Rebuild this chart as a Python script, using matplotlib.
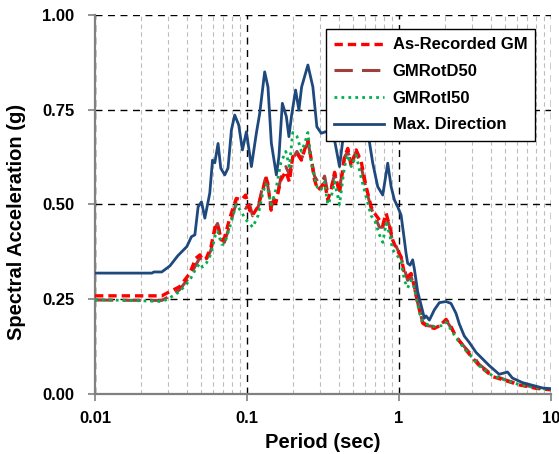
import matplotlib
matplotlib.use("Agg")
import matplotlib.pyplot as plt
from matplotlib.ticker import NullFormatter, LogLocator

plt.rcParams['font.family'] = ['Liberation Sans', 'DejaVu Sans']

# Periods (sec) for the three component spectra
periods = [0.01, 0.02, 0.0275, 0.030, 0.036, 0.042, 0.046, 0.049, 0.051, 0.054, 0.058,
           0.062, 0.064, 0.068, 0.071, 0.077, 0.085, 0.092, 0.098, 0.104, 0.109, 0.118,
           0.127, 0.133, 0.137, 0.144, 0.150, 0.155, 0.167, 0.180, 0.190, 0.200, 0.213,
           0.228, 0.239, 0.2515, 0.265, 0.278, 0.2925, 0.308, 0.324, 0.340, 0.358, 0.377,
           0.406, 0.438, 0.4605, 0.485, 0.523, 0.564, 0.608, 0.656, 0.690, 0.744, 0.782,
           0.823, 0.870, 0.909, 0.957, 1.032, 1.085, 1.140, 1.201, 1.262, 1.362, 1.431,
           1.544, 1.708, 1.890, 2.039, 2.198, 2.371, 2.620, 2.758, 2.975, 3.209, 3.373,
           4.123, 5.050, 6.170, 7.950, 10.0]

as_recorded = [0.259, 0.259, 0.259, 0.267, 0.283, 0.318, 0.358, 0.367, 0.354, 0.358, 0.389,
               0.446, 0.446, 0.406, 0.411, 0.464, 0.516, 0.512, 0.525, 0.485, 0.472, 0.494,
               0.538, 0.573, 0.556, 0.485, 0.507, 0.505, 0.565, 0.587, 0.560, 0.626, 0.635,
               0.617, 0.644, 0.670, 0.617, 0.565, 0.538, 0.547, 0.560, 0.512, 0.538, 0.585,
               0.530, 0.626, 0.648, 0.600, 0.644, 0.613, 0.547, 0.494, 0.477, 0.459, 0.446,
               0.477, 0.440, 0.406, 0.385, 0.362, 0.318, 0.310, 0.318, 0.283, 0.222, 0.187,
               0.178, 0.173, 0.182, 0.197, 0.178, 0.151, 0.129, 0.116, 0.100, 0.085, 0.075,
               0.046, 0.035, 0.024, 0.015, 0.011]

gmrotd50 = [0.248, 0.247, 0.247, 0.255, 0.275, 0.310, 0.340, 0.360, 0.345, 0.355, 0.380,
            0.440, 0.450, 0.410, 0.400, 0.445, 0.505, 0.500, 0.490, 0.500, 0.470, 0.490,
            0.550, 0.570, 0.550, 0.490, 0.515, 0.510, 0.570, 0.600, 0.580, 0.620, 0.640,
            0.620, 0.640, 0.665, 0.620, 0.575, 0.560, 0.555, 0.575, 0.530, 0.545, 0.580,
            0.540, 0.625, 0.640, 0.610, 0.640, 0.600, 0.540, 0.490, 0.470, 0.440, 0.440,
            0.470, 0.440, 0.400, 0.390, 0.360, 0.330, 0.300, 0.310, 0.280, 0.220, 0.190,
            0.180, 0.178, 0.185, 0.195, 0.175, 0.152, 0.130, 0.120, 0.105, 0.090, 0.078,
            0.050, 0.037, 0.026, 0.017, 0.012]

gmroti50 = [0.249, 0.246, 0.244, 0.250, 0.270, 0.300, 0.330, 0.345, 0.335, 0.345, 0.370,
            0.420, 0.430, 0.395, 0.395, 0.440, 0.500, 0.480, 0.460, 0.450, 0.440, 0.470,
            0.530, 0.555, 0.540, 0.500, 0.520, 0.540, 0.610, 0.640, 0.600, 0.690, 0.680,
            0.640, 0.660, 0.690, 0.610, 0.570, 0.540, 0.540, 0.560, 0.500, 0.520, 0.560,
            0.500, 0.600, 0.630, 0.600, 0.630, 0.570, 0.520, 0.470, 0.460, 0.420, 0.400,
            0.450, 0.420, 0.380, 0.370, 0.350, 0.300, 0.280, 0.300, 0.280, 0.215, 0.190,
            0.183, 0.178, 0.180, 0.190, 0.170, 0.148, 0.126, 0.115, 0.100, 0.085, 0.074,
            0.048, 0.036, 0.025, 0.016, 0.012]

# Max. Direction spectrum
periods_max = [0.01, 0.0237, 0.0244, 0.0275, 0.0311, 0.0351, 0.0402, 0.0431, 0.0454, 0.0477,
               0.0502, 0.0528, 0.0569, 0.0593, 0.0614, 0.0645, 0.0672, 0.0714, 0.0750, 0.0790,
               0.0830, 0.0882, 0.0933, 0.0991, 0.1069, 0.1153, 0.1212, 0.1307, 0.1374, 0.1446,
               0.1560, 0.1622, 0.1708, 0.1815, 0.1887, 0.1960, 0.2088, 0.2195, 0.2287, 0.2515,
               0.2713, 0.2882, 0.3079, 0.3287, 0.3460, 0.3766, 0.4062, 0.4269, 0.4380, 0.4700,
               0.5200, 0.5700, 0.6231, 0.6720, 0.7246, 0.7816, 0.8230, 0.8429, 0.8876, 0.9328,
               0.9806, 1.032, 1.085, 1.113, 1.140, 1.183, 1.230, 1.262, 1.327, 1.397, 1.469,
               1.507, 1.584, 1.708, 1.842, 2.039, 2.198, 2.371, 2.493, 2.688, 2.900, 3.209,
               3.924, 4.562, 5.172, 5.578, 6.491, 7.549, 8.780, 10.0]

max_direction = [0.319, 0.319, 0.322, 0.322, 0.338, 0.365, 0.389, 0.415, 0.420, 0.494,
                 0.507, 0.464, 0.530, 0.617, 0.610, 0.661, 0.596, 0.578, 0.596, 0.697,
                 0.736, 0.710, 0.644, 0.692, 0.600, 0.689, 0.740, 0.850, 0.810, 0.662,
                 0.578, 0.626, 0.767, 0.732, 0.679, 0.732, 0.802, 0.749, 0.810, 0.868,
                 0.810, 0.705, 0.688, 0.692, 0.688, 0.670, 0.600, 0.670, 0.692, 0.740,
                 0.760, 0.720, 0.692, 0.609, 0.547, 0.525, 0.582, 0.609, 0.547, 0.512,
                 0.494, 0.472, 0.406, 0.371, 0.345, 0.340, 0.354, 0.330, 0.270, 0.235, 0.200,
                 0.206, 0.195, 0.222, 0.241, 0.244, 0.239, 0.213, 0.185, 0.153, 0.136, 0.110,
                 0.075, 0.052, 0.058, 0.042, 0.030, 0.023, 0.016, 0.014]

legend_labels = ["As-Recorded GM", "GMRotD50", "GMRotI50", "Max. Direction"]
xtick_vals = [0.01, 0.1, 1, 10]
xtick_labels = ["0.01", "0.1", "1", "10"]
ytick_vals = [0.0, 0.25, 0.5, 0.75, 1.0]
ytick_labels = ["0.00", "0.25", "0.50", "0.75", "1.00"]

fig = plt.figure(figsize=(5.59, 4.54), dpi=100)
ax = fig.add_axes([95 / 559, 60 / 454, 456 / 559, 379 / 454])

ax.set_xscale('log')
ax.set_xlim(0.01, 10)
ax.set_ylim(0, 1.0)

# grids
ax.xaxis.set_minor_locator(LogLocator(base=10, subs=[2, 3, 4, 5, 6, 7, 8, 9]))
ax.xaxis.set_minor_formatter(NullFormatter())
ax.grid(which='minor', axis='x', color='#bdbdbd', linestyle=(0, (4, 3)), linewidth=0.8)
ax.grid(which='major', axis='both', color='black', linestyle=(0, (5, 4)), linewidth=1.0)
ax.tick_params(which='minor', length=0)

ax.plot(periods, as_recorded, color='#FF0000', linestyle=(0, (2.5, 1.5)), linewidth=2.4,
        label=legend_labels[0], zorder=4)
ax.plot(periods, gmrotd50, color='#A0403C', linestyle=(0, (6, 3)), linewidth=2.2,
        label=legend_labels[1], zorder=3)
ax.plot(periods, gmroti50, color='#00B050', linestyle=(0, (1, 1.5)), linewidth=2.0,
        label=legend_labels[2], zorder=5)
ax.plot(periods_max, max_direction, color='#1F497D', linestyle='-', linewidth=2.0,
        label=legend_labels[3], zorder=6)

ax.set_xticks(xtick_vals)
ax.set_xticklabels(xtick_labels)
ax.set_yticks(ytick_vals)
ax.set_yticklabels(ytick_labels)
for lab in ax.get_xticklabels() + ax.get_yticklabels():
    lab.set_fontweight('bold')
    lab.set_fontsize(12)
ax.tick_params(which='major', length=5, width=1.2, color='#808080', direction='out')
ax.tick_params(axis='y', which='major', pad=10)
ax.tick_params(axis='x', which='major', pad=7)

for s in ['top', 'right']:
    ax.spines[s].set_visible(False)
for s in ['left', 'bottom']:
    ax.spines[s].set_color('#808080')
    ax.spines[s].set_linewidth(1.6)

ax.set_xlabel("Period (sec)", fontsize=14.5, fontweight='bold', labelpad=5)
ax.set_ylabel("Spectral Acceleration (g)", fontsize=14.5, fontweight='bold')
ax.yaxis.set_label_coords(-0.152, 0.454)

leg = ax.legend(loc='upper right', bbox_to_anchor=(0.966, 0.963), frameon=True,
                fancybox=False, edgecolor='black', framealpha=1.0,
                prop={'weight': 'bold', 'size': 12}, handlelength=3.0,
                borderpad=0.5, labelspacing=0.7, handletextpad=0.5,
                borderaxespad=0.0)
leg.get_frame().set_linewidth(1.0)
leg.set_zorder(10)

fig.savefig("out.png", dpi=100)
